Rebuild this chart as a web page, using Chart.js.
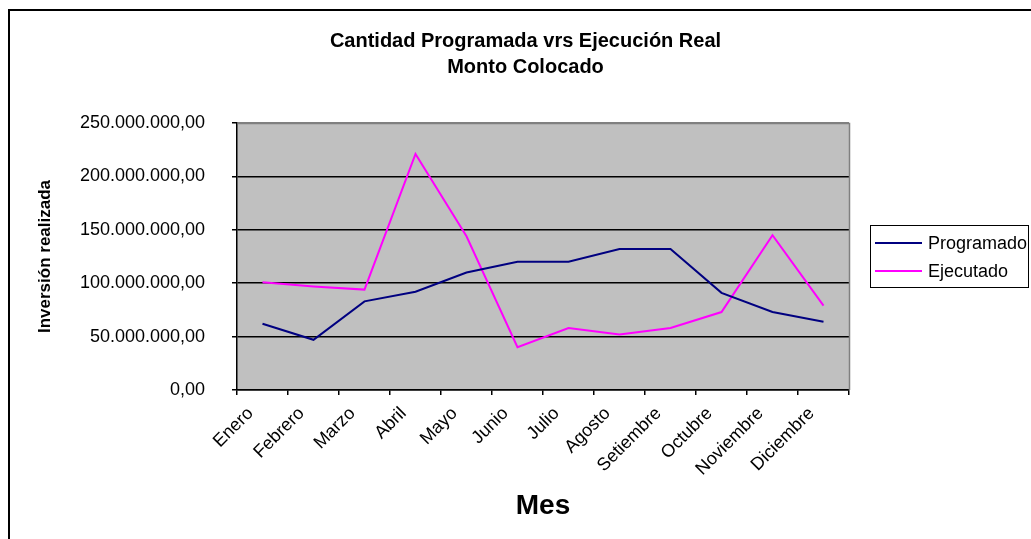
<!DOCTYPE html>
<html><head><meta charset="utf-8">
<script src="https://cdn.jsdelivr.net/npm/chart.js@4.4.1/dist/chart.umd.min.js"></script>
<style>html,body{margin:0;padding:0;background:#fff;overflow:hidden}</style>
</head><body>
<canvas id="c" width="1031" height="539" style="display:block;width:1031px;height:539px"></canvas>
<script>
const meses = ['Enero','Febrero','Marzo','Abril','Mayo','Junio','Julio','Agosto','Setiembre','Octubre','Noviembre','Diciembre'];
const programado = [62000000, 47000000, 83000000, 92000000, 110000000, 120000000, 120000000, 132000000, 132000000, 91000000, 73000000, 64000000];
const ejecutado = [101000000, 97000000, 94000000, 221000000, 144000000, 40000000, 58000000, 52000000, 58000000, 73000000, 145000000, 79000000];
const serieNombres = ['Programado', 'Ejecutado'];
const serieColores = ['#000080', '#FF00FF'];
const tituloLineas = ['Cantidad Programada vrs Ejecución Real', 'Monto Colocado'];
const yMin = 0, yMax = 250000000, yPaso = 50000000;

const FONT = '"Liberation Sans", Arial, sans-serif';

function fmt(v) {
  const s = Math.round(v).toString().replace(/\B(?=(\d{3})+(?!\d))/g, '.');
  return s + ',00';
}

const decor = {
  id: 'decor',
  beforeDraw(chart) {
    const {ctx, chartArea: a} = chart;
    ctx.save();
    ctx.fillStyle = '#fff';
    ctx.fillRect(0, 0, chart.width, chart.height);
    ctx.fillStyle = '#C0C0C0';
    ctx.fillRect(a.left, a.top, a.right - a.left, a.bottom - a.top);
    ctx.restore();
  },
  afterDraw(chart) {
    const {ctx, chartArea: a} = chart;
    ctx.save();
    ctx.strokeStyle = '#808080';
    ctx.lineWidth = 1.5;
    ctx.beginPath();
    ctx.moveTo(Math.round(a.left) + 0.5, Math.round(a.top) + 0.5);
    ctx.lineTo(Math.round(a.right) + 0.5, Math.round(a.top) + 0.5);
    ctx.lineTo(Math.round(a.right) + 0.5, Math.round(a.bottom));
    ctx.stroke();
    ctx.strokeStyle = '#000';
    ctx.lineWidth = 2;
    ctx.strokeRect(9, 10, 1100, 600);
    const lx = 870, ly = 225, lw = 158, lh = 62;
    ctx.fillStyle = '#fff';
    ctx.fillRect(lx, ly, lw, lh);
    ctx.lineWidth = 1;
    ctx.strokeStyle = '#000';
    ctx.strokeRect(lx + 0.5, ly + 0.5, lw, lh);
    ctx.font = '18px ' + FONT;
    ctx.textBaseline = 'middle';
    ctx.textAlign = 'left';
    const ys = [243, 271];
    serieNombres.forEach((n, i) => {
      ctx.strokeStyle = serieColores[i];
      ctx.lineWidth = 2;
      ctx.beginPath();
      ctx.moveTo(875, ys[i]);
      ctx.lineTo(922, ys[i]);
      ctx.stroke();
      ctx.fillStyle = '#000';
      ctx.fillText(n, 928, ys[i] + 1);
    });
    ctx.restore();
  }
};

new Chart(document.getElementById('c'), {
  type: 'line',
  data: {
    labels: meses,
    datasets: [
      {label: serieNombres[0], data: programado, borderColor: serieColores[0], backgroundColor: serieColores[0], borderWidth: 2, pointRadius: 0, tension: 0, fill: false, yAxisID: 'y'},
      {label: serieNombres[1], data: ejecutado, borderColor: serieColores[1], backgroundColor: serieColores[1], borderWidth: 2, pointRadius: 0, tension: 0, fill: false, yAxisID: 'y'}
    ]
  },
  options: {
    responsive: false,
    animation: false,
    devicePixelRatio: 1,
    layout: {padding: {left: 20, right: 0, top: 0, bottom: 0}},
    plugins: {
      legend: {display: false},
      tooltip: {enabled: false},
      title: {
        display: true,
        text: tituloLineas,
        color: '#000',
        font: {family: FONT, size: 20, weight: 'bold', lineHeight: 1.3},
        padding: {top: 28, bottom: 43}
      }
    },
    scales: {
      x: {
        type: 'category',
        offset: true,
        grid: {display: true, drawOnChartArea: false, drawTicks: true, tickLength: 5, offset: true, color: '#000', lineWidth: 1.5},
        border: {display: true, color: '#000', width: 1.5},
        ticks: {autoSkip: false, minRotation: 45, maxRotation: 45, padding: 8, labelOffset: -12, color: '#000', font: {family: FONT, size: 18}},
        title: {display: true, text: 'Mes', color: '#000', font: {family: FONT, size: 28, weight: 'bold'}, padding: {top: 0, bottom: 16}},
        afterFit(s) { s.height = 149; }
      },
      y: {
        min: yMin, max: yMax,
        grid: {
          color: (c) => (c.tick && c.tick.value === yMax) ? '#808080' : '#000',
          tickColor: '#000',
          drawTicks: true, tickLength: 5, lineWidth: 1.5
        },
        border: {display: true, color: '#000', width: 1.5},
        ticks: {stepSize: yPaso, padding: 27, color: '#000', font: {family: FONT, size: 18}, callback: (v) => fmt(v)},
        title: {display: true, text: 'Inversión realizada', color: '#000', font: {family: FONT, size: 17, weight: 'bold'}, padding: {top: 15, bottom: 0}},
        afterFit(s) { s.width = 217; }
      },
      yDer: {
        position: 'right',
        display: true,
        grid: {display: false, drawTicks: false},
        border: {display: false},
        ticks: {display: false},
        afterFit(s) { s.width = 182; }
      }
    }
  },
  plugins: [decor]
});
</script>
</body></html>
